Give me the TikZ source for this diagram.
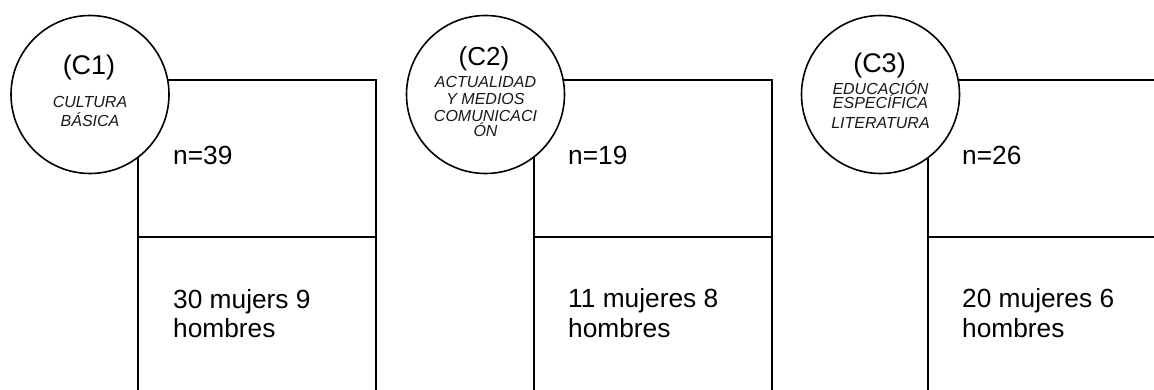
\documentclass[tikz,border=0pt]{standalone}
\usepackage{fontspec}
\setmainfont{Liberation Sans}
\begin{document}
\begin{tikzpicture}[x=1pt,y=-1pt,
  cell/.style={draw=black,line width=1.6pt,fill=white,inner sep=0pt,minimum width=238pt},
  disc/.style={draw=black,line width=1.6pt,fill=white,circle,inner sep=0pt,minimum size=158pt},
  bigtxt/.style={anchor=base west,inner sep=0pt,font=\fontsize{26.3}{30}\selectfont},
  ctitle/.style={anchor=base,inner sep=0pt,font=\fontsize{27}{30}\selectfont},
  csub/.style={anchor=base,inner sep=0pt,text=black!90,font=\fontsize{16}{17}\selectfont\itshape}]
\useasboundingbox (0,0) rectangle (1154,390);
\clip (0,0) rectangle (1154,390);
% panel 1
\node[cell,minimum height=157pt,anchor=north west] (t1) at (137,79) {};
\node[cell,minimum height=170pt,anchor=north west] (b1) at (137,236) {};
\node[disc] (c1) at (90,94.5) {};
\node[ctitle] (c1a) at (89,75) {(C1)};
\node[csub] (c1b) at (90,108) {CULTURA};
\node[csub] (c1c) at (90,127) {BÁSICA};
\node[bigtxt] (n1) at (173,165) {n=39};
\node[bigtxt] (m1) at (173,308) {30 mujers 9};
\node[bigtxt] (h1) at (173,337) {hombres};
% panel 2
\node[cell,minimum height=157pt,anchor=north west] (t2) at (533,79) {};
\node[cell,minimum height=170pt,anchor=north west] (b2) at (533,236) {};
\node[disc] (c2) at (485.5,94.5) {};
\node[ctitle,font=\fontsize{26}{28}\selectfont] (c2a) at (484,66) {(C2)};
\node[csub] (c2b) at (485.5,88) {ACTUALIDAD};
\node[csub] (c2c) at (485.5,105) {Y MEDIOS};
\node[csub] (c2d) at (485.5,122) {COMUNICACI};
\node[csub] (c2e) at (485.5,137) {ÓN};
\node[bigtxt] (n2) at (568,165) {n=19};
\node[bigtxt] (m2) at (568,307) {11 mujeres 8};
\node[bigtxt] (h2) at (568,337) {hombres};
% panel 3
\node[cell,minimum height=157pt,anchor=north west] (t3) at (927,79) {};
\node[cell,minimum height=170pt,anchor=north west] (b3) at (927,236) {};
\node[disc] (c3) at (880.5,94.5) {};
\node[ctitle] (c3a) at (879.5,73) {(C3)};
\node[csub] (c3b) at (880.5,95) {EDUCACIÓN};
\node[csub] (c3c) at (880.5,109) {ESPECÍFICA};
\node[csub] (c3d) at (880.5,129) {LITERATURA};
\node[bigtxt] (n3) at (962,165) {n=26};
\node[bigtxt] (m3) at (962,307) {20 mujeres 6};
\node[bigtxt] (h3) at (962,337) {hombres};
\end{tikzpicture}
\end{document}
